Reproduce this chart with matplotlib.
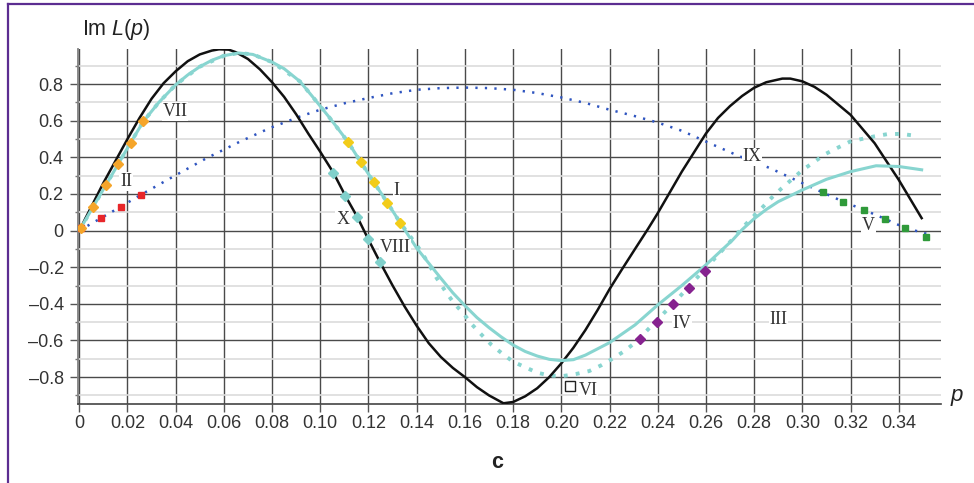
import numpy as np
import matplotlib.pyplot as plt
from matplotlib.lines import Line2D
from matplotlib.ticker import FixedLocator

plt.rcParams['font.family'] = ['Liberation Sans', 'DejaVu Sans']
plt.rcParams['mathtext.fontset'] = 'custom'
plt.rcParams['mathtext.rm'] = 'Liberation Sans'
plt.rcParams['mathtext.it'] = 'Liberation Sans:italic'

# black solid curve
p_black = [0, 0.005, 0.01, 0.015, 0.02, 0.025, 0.03, 0.035, 0.04, 0.045, 0.05, 0.055, 0.058,
           0.062, 0.065, 0.07, 0.075, 0.08, 0.085, 0.09, 0.095, 0.10, 0.1054, 0.1104,
           0.1154, 0.1199, 0.1248, 0.13, 0.135, 0.14, 0.145, 0.15, 0.155, 0.16, 0.165, 0.17,
           0.176, 0.18, 0.185, 0.19, 0.195, 0.20, 0.205, 0.21, 0.215, 0.22, 0.225, 0.2306,
           0.236, 0.24, 0.25, 0.26, 0.265, 0.27, 0.275, 0.28, 0.285, 0.2917, 0.295, 0.30,
           0.305, 0.31, 0.32, 0.33, 0.34, 0.3495]
v_black = [0, 0.13, 0.26, 0.38, 0.50, 0.615, 0.72, 0.805, 0.87, 0.925, 0.962, 0.983, 0.99,
           0.988, 0.974, 0.937, 0.88, 0.81, 0.73, 0.635, 0.53, 0.43, 0.317, 0.19,
           0.073, -0.047, -0.173, -0.30, -0.415, -0.52, -0.615, -0.69, -0.75, -0.80, -0.855, -0.90,
           -0.943, -0.936, -0.905, -0.861, -0.80, -0.725, -0.64, -0.543, -0.435, -0.32, -0.215, -0.10,
           0.01, 0.095, 0.322, 0.53, 0.615, 0.68, 0.735, 0.78, 0.81,
           0.83, 0.83, 0.815, 0.785, 0.742, 0.632, 0.477, 0.277, 0.068]

# cyan solid curve
p_cyan = [0, 0.0058, 0.0111, 0.0162, 0.0213, 0.0266, 0.033, 0.04, 0.045, 0.05, 0.055, 0.06,
          0.066, 0.072, 0.08, 0.085, 0.0916, 0.0975, 0.104, 0.1114, 0.1168, 0.1222, 0.1278,
          0.1331, 0.14, 0.15, 0.155, 0.16, 0.165, 0.17, 0.175, 0.18, 0.185, 0.19, 0.195,
          0.20, 0.205, 0.21, 0.22, 0.2306, 0.24, 0.25, 0.26, 0.2711, 0.2749, 0.28, 0.285,
          0.29, 0.30, 0.31, 0.32, 0.3306, 0.34, 0.3495]
v_cyan = [0, 0.131, 0.25, 0.364, 0.48, 0.596, 0.70, 0.796, 0.85, 0.895, 0.93, 0.955,
          0.97, 0.962, 0.92, 0.884, 0.814, 0.72, 0.614, 0.486, 0.374, 0.264, 0.153,
          0.044, -0.096, -0.26, -0.34, -0.41, -0.475, -0.53, -0.58, -0.625, -0.66, -0.685, -0.703,
          -0.71, -0.705, -0.68, -0.612, -0.515, -0.406, -0.30, -0.187, -0.051, 0.004, 0.065, 0.115,
          0.158, 0.222, 0.28, 0.322, 0.354, 0.35, 0.332]

# cyan dotted curve
p_cyan_dot = [0, 0.0058, 0.0111, 0.0162, 0.0213, 0.0266, 0.033, 0.04, 0.05, 0.06, 0.066, 0.072,
              0.08, 0.0916, 0.0975, 0.104, 0.1114, 0.1168, 0.1222, 0.1278, 0.1331, 0.1414,
              0.1448, 0.1483, 0.152, 0.1555, 0.1593, 0.1628, 0.167, 0.1711, 0.1757, 0.180,
              0.185, 0.19, 0.1953, 0.2008, 0.2061, 0.2116, 0.2168, 0.2216, 0.2264, 0.2306,
              0.2347, 0.2472, 0.2548, 0.2631, 0.2714, 0.2749, 0.279, 0.2831, 0.2873, 0.2915,
              0.3002, 0.3046, 0.3094, 0.3143, 0.3198, 0.3246, 0.3297, 0.3354, 0.341, 0.3463]
v_cyan_dot = [0, 0.131, 0.25, 0.364, 0.48, 0.596, 0.70, 0.796, 0.895, 0.955, 0.97, 0.962,
              0.92, 0.814, 0.72, 0.614, 0.486, 0.374, 0.264, 0.153, 0.044, -0.105,
              -0.178, -0.26, -0.333, -0.397, -0.451, -0.511, -0.57, -0.625, -0.674, -0.716,
              -0.746, -0.776, -0.792, -0.794, -0.783, -0.767, -0.734, -0.697, -0.656, -0.612,
              -0.557, -0.388, -0.279, -0.16, -0.042, 0.013, 0.068, 0.122, 0.18, 0.232,
              0.332, 0.372, 0.417, 0.45, 0.486, 0.50, 0.514, 0.527, 0.528, 0.519]

# blue dotted curve
p_blue = [0, 0.009, 0.0173, 0.0255, 0.039, 0.0529, 0.0667, 0.0791, 0.0916, 0.10, 0.11,
          0.12, 0.13, 0.14, 0.15, 0.16, 0.17, 0.18, 0.19, 0.20, 0.21, 0.22, 0.23, 0.24,
          0.25, 0.26, 0.2735, 0.2866, 0.30, 0.3085, 0.317, 0.3256, 0.3343, 0.3426, 0.3523]
v_blue = [0, 0.068, 0.131, 0.195, 0.295, 0.396, 0.486, 0.56, 0.623, 0.66, 0.695,
          0.724, 0.75, 0.769, 0.778, 0.781, 0.778, 0.769, 0.751, 0.727, 0.697, 0.66, 0.627, 0.59,
          0.545, 0.486, 0.408, 0.341, 0.259, 0.208, 0.158, 0.113, 0.064, 0.015, -0.02]

# marker segments
p_red = [0.0007, 0.009, 0.0173, 0.0255]
v_red = [0.013, 0.068, 0.131, 0.195]
p_orange = [0.0007, 0.0058, 0.0111, 0.0162, 0.0213, 0.0266]
v_orange = [0.016, 0.131, 0.25, 0.364, 0.481, 0.596]
p_yellow = [0.1114, 0.1168, 0.1222, 0.1278, 0.1331]
v_yellow = [0.486, 0.374, 0.264, 0.153, 0.044]
p_teal = [0.1054, 0.1104, 0.1154, 0.1199, 0.1248]
v_teal = [0.317, 0.19, 0.073, -0.047, -0.173]
p_purple = [0.2327, 0.2396, 0.2465, 0.253, 0.2596]
v_purple = [-0.592, -0.497, -0.40, -0.311, -0.219]
p_green = [0.3085, 0.317, 0.3256, 0.3343, 0.3426, 0.3513]
v_green = [0.208, 0.158, 0.113, 0.064, 0.015, -0.033]
p_vi, v_vi = [0.2036], [-0.847]

# roman numeral labels
labels = ['VII', 'II', 'I', 'X', 'VIII', 'VI', 'IV', 'III', 'IX', 'V']
lab_p = [0.0397, 0.0194, 0.1317, 0.1093, 0.131, 0.211, 0.25, 0.29, 0.279, 0.3274]
lab_v = [0.650, 0.268, 0.219, 0.062, -0.095, -0.875, -0.506, -0.488, 0.403, 0.026]

xticks = [0, 0.02, 0.04, 0.06, 0.08, 0.10, 0.12, 0.14, 0.16, 0.18, 0.20, 0.22,
          0.24, 0.26, 0.28, 0.30, 0.32, 0.34]
xticklabels = ['0'] + ['%.2f' % t for t in xticks[1:]]
yticks = [-0.8, -0.6, -0.4, -0.2, 0, 0.2, 0.4, 0.6, 0.8]
yticklabels = ['\u20130.8', '\u20130.6', '\u20130.4', '\u20130.2', '0', '0.2', '0.4', '0.6', '0.8']

cyan = '#88d5d0'

fig = plt.figure(figsize=(9.74, 4.83), dpi=100)
ax = fig.add_axes([78.3 / 974, 79 / 483, 862.4 / 974, 354.7 / 483])
ax.set_xlim(-0.0004, 0.3574)
ax.set_ylim(-0.947, 0.99)

# grid
ax.set_xticks(xticks)
ax.set_xticklabels(xticklabels)
ax.set_yticks(yticks)
ax.set_yticklabels(yticklabels)
ax.yaxis.set_minor_locator(FixedLocator([-0.9, -0.7, -0.5, -0.3, -0.1, 0.1, 0.3, 0.5, 0.7, 0.9]))
ax.grid(True, which='major', color='#4a4a4a', lw=1.0, zorder=0)
ax.grid(True, which='minor', axis='y', color='#dcdcdc', lw=1.2, zorder=0)
ax.set_axisbelow(True)
ax.tick_params(axis='both', which='major', length=5.5, color='#555555', width=1.0,
               labelsize=13, labelcolor='#333333')
ax.tick_params(axis='x', pad=2.5)
ax.tick_params(axis='y', pad=5)
ax.tick_params(axis='y', which='minor', length=2.5, color='#777777', width=1.0)
for s in ['top', 'right']:
    ax.spines[s].set_visible(False)
ax.spines['left'].set_color('#808080')
ax.spines['left'].set_linewidth(1.3)
ax.spines['bottom'].set_color('#444444')
ax.spines['bottom'].set_linewidth(1.2)

# curves
ax.plot(p_blue, v_blue, color='#2f55c0', lw=1.8, linestyle=(0, (0.9, 2.9)), zorder=2)
ax.plot(p_cyan_dot, v_cyan_dot, color=cyan, lw=2.8, linestyle=(0, (1, 2.1)), zorder=3)
ax.plot(p_black, v_black, color='#111111', lw=1.8, zorder=4)
ax.plot(p_cyan, v_cyan, color=cyan, lw=2.2, zorder=5)

ax.plot(p_red, v_red, 's', color='#e8262a', ms=5, zorder=6)
ax.plot(p_orange, v_orange, 'D', color='#f5a52a', ms=5, zorder=6)
ax.plot(p_yellow, v_yellow, 'D', color='#f2cc1a', ms=5, zorder=6)
ax.plot(p_teal, v_teal, 'D', color='#80d0cb', ms=5, zorder=6)
ax.plot(p_purple, v_purple, 'D', color='#86228f', ms=5, zorder=6)
ax.plot(p_green, v_green, 's', color='#2f9a3a', ms=5, zorder=6)
ax.plot(p_vi, v_vi, 's', mfc='white', mec='#222222', mew=1.0, ms=7, zorder=6)

for t, x, y in zip(labels, lab_p, lab_v):
    ax.text(x, y, t, family=['Liberation Serif', 'DejaVu Serif'], fontsize=13,
            color='#333333', ha='center', va='center', zorder=7,
            bbox=dict(facecolor='white', edgecolor='none', pad=0.5))

# axis captions
fig.text(81.7 / 974, 1 - 35 / 483, 'Im $L$($p$)', fontsize=15.5, color='#222222',
         ha='left', va='baseline')
fig.text(951 / 974, 1 - 400.7 / 483, 'p', fontsize=16, style='italic', color='#222222',
         ha='left', va='baseline')
fig.text(497.5 / 974, 1 - 468.3 / 483, 'c', fontsize=15.5, fontweight='bold', color='#222222',
         ha='center', va='baseline')

# purple frame
frame = '#5c2d91'
fig.add_artist(Line2D([7.5 / 974, 7.5 / 974], [0, 1 - 3.5 / 483], color=frame, lw=1.6))
fig.add_artist(Line2D([7.5 / 974, 1], [1 - 3.5 / 483, 1 - 3.5 / 483], color=frame, lw=1.6))

fig.savefig('out.png', dpi=100)
